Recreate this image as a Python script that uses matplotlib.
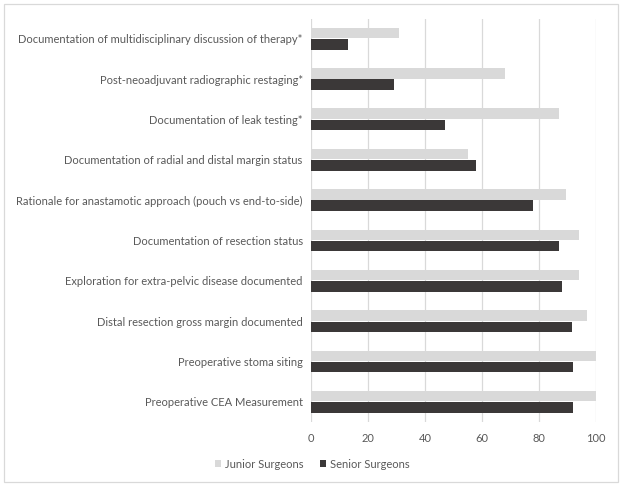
import numpy as np
import matplotlib.pyplot as plt
from matplotlib.patches import Rectangle

plt.rcParams['font.family'] = ['Lato', 'DejaVu Sans']

# data, top row first
categories = [
    "Documentation of multidisciplinary discussion of therapy*",
    "Post-neoadjuvant radiographic restaging*",
    "Documentation of leak testing*",
    "Documentation of radial and distal margin status",
    "Rationale for anastamotic approach (pouch vs end-to-side)",
    "Documentation of resection status",
    "Exploration for extra-pelvic disease documented",
    "Distal resection gross margin documented",
    "Preoperative stoma siting",
    "Preoperative CEA Measurement",
]
junior = [31, 68, 87, 55, 89.5, 94, 94, 97, 100, 100]
senior = [13, 29, 47, 58, 78, 87, 88, 91.5, 92, 92]
xticks = [0, 20, 40, 60, 80, 100]

light = "#d9d9d9"
dark = "#3b3838"
text_col = "#595959"

fig = plt.figure(figsize=(6.24, 4.87), dpi=100)
ax = fig.add_axes([0.4984, 0.1335, 0.4568, 0.8285])

y = np.arange(len(categories))
h = 0.26
ax.barh(y - h / 2 - 0.01, junior, height=h, color=light, label="Junior Surgeons", zorder=2)
ax.barh(y + h / 2 + 0.01, senior, height=h, color=dark, label="Senior Surgeons", zorder=2)

ax.set_ylim(len(categories) - 0.5, -0.5)
ax.set_xlim(0, 100)
ax.set_xticks(xticks)
ax.set_yticks(y)
ax.set_yticklabels(categories)
ax.tick_params(axis='both', length=0, labelsize=8, colors=text_col, pad=6)
ax.tick_params(axis='x', pad=8)
ax.xaxis.grid(True, color=light, linewidth=0.9, zorder=0)
for s in ax.spines.values():
    s.set_visible(False)

leg = fig.legend(loc='lower center', bbox_to_anchor=(0.5, 0.015), ncol=2, frameon=False,
                 fontsize=8, handlelength=0.6, handleheight=0.6, columnspacing=1.5,
                 handletextpad=0.3)
for t in leg.get_texts():
    t.set_color(text_col)

fig.patches.append(Rectangle((0.007, 0.01), 0.984, 0.981, transform=fig.transFigure,
                             fill=False, edgecolor="#d9d9d9", linewidth=0.9))

fig.savefig("out.png", dpi=100)
